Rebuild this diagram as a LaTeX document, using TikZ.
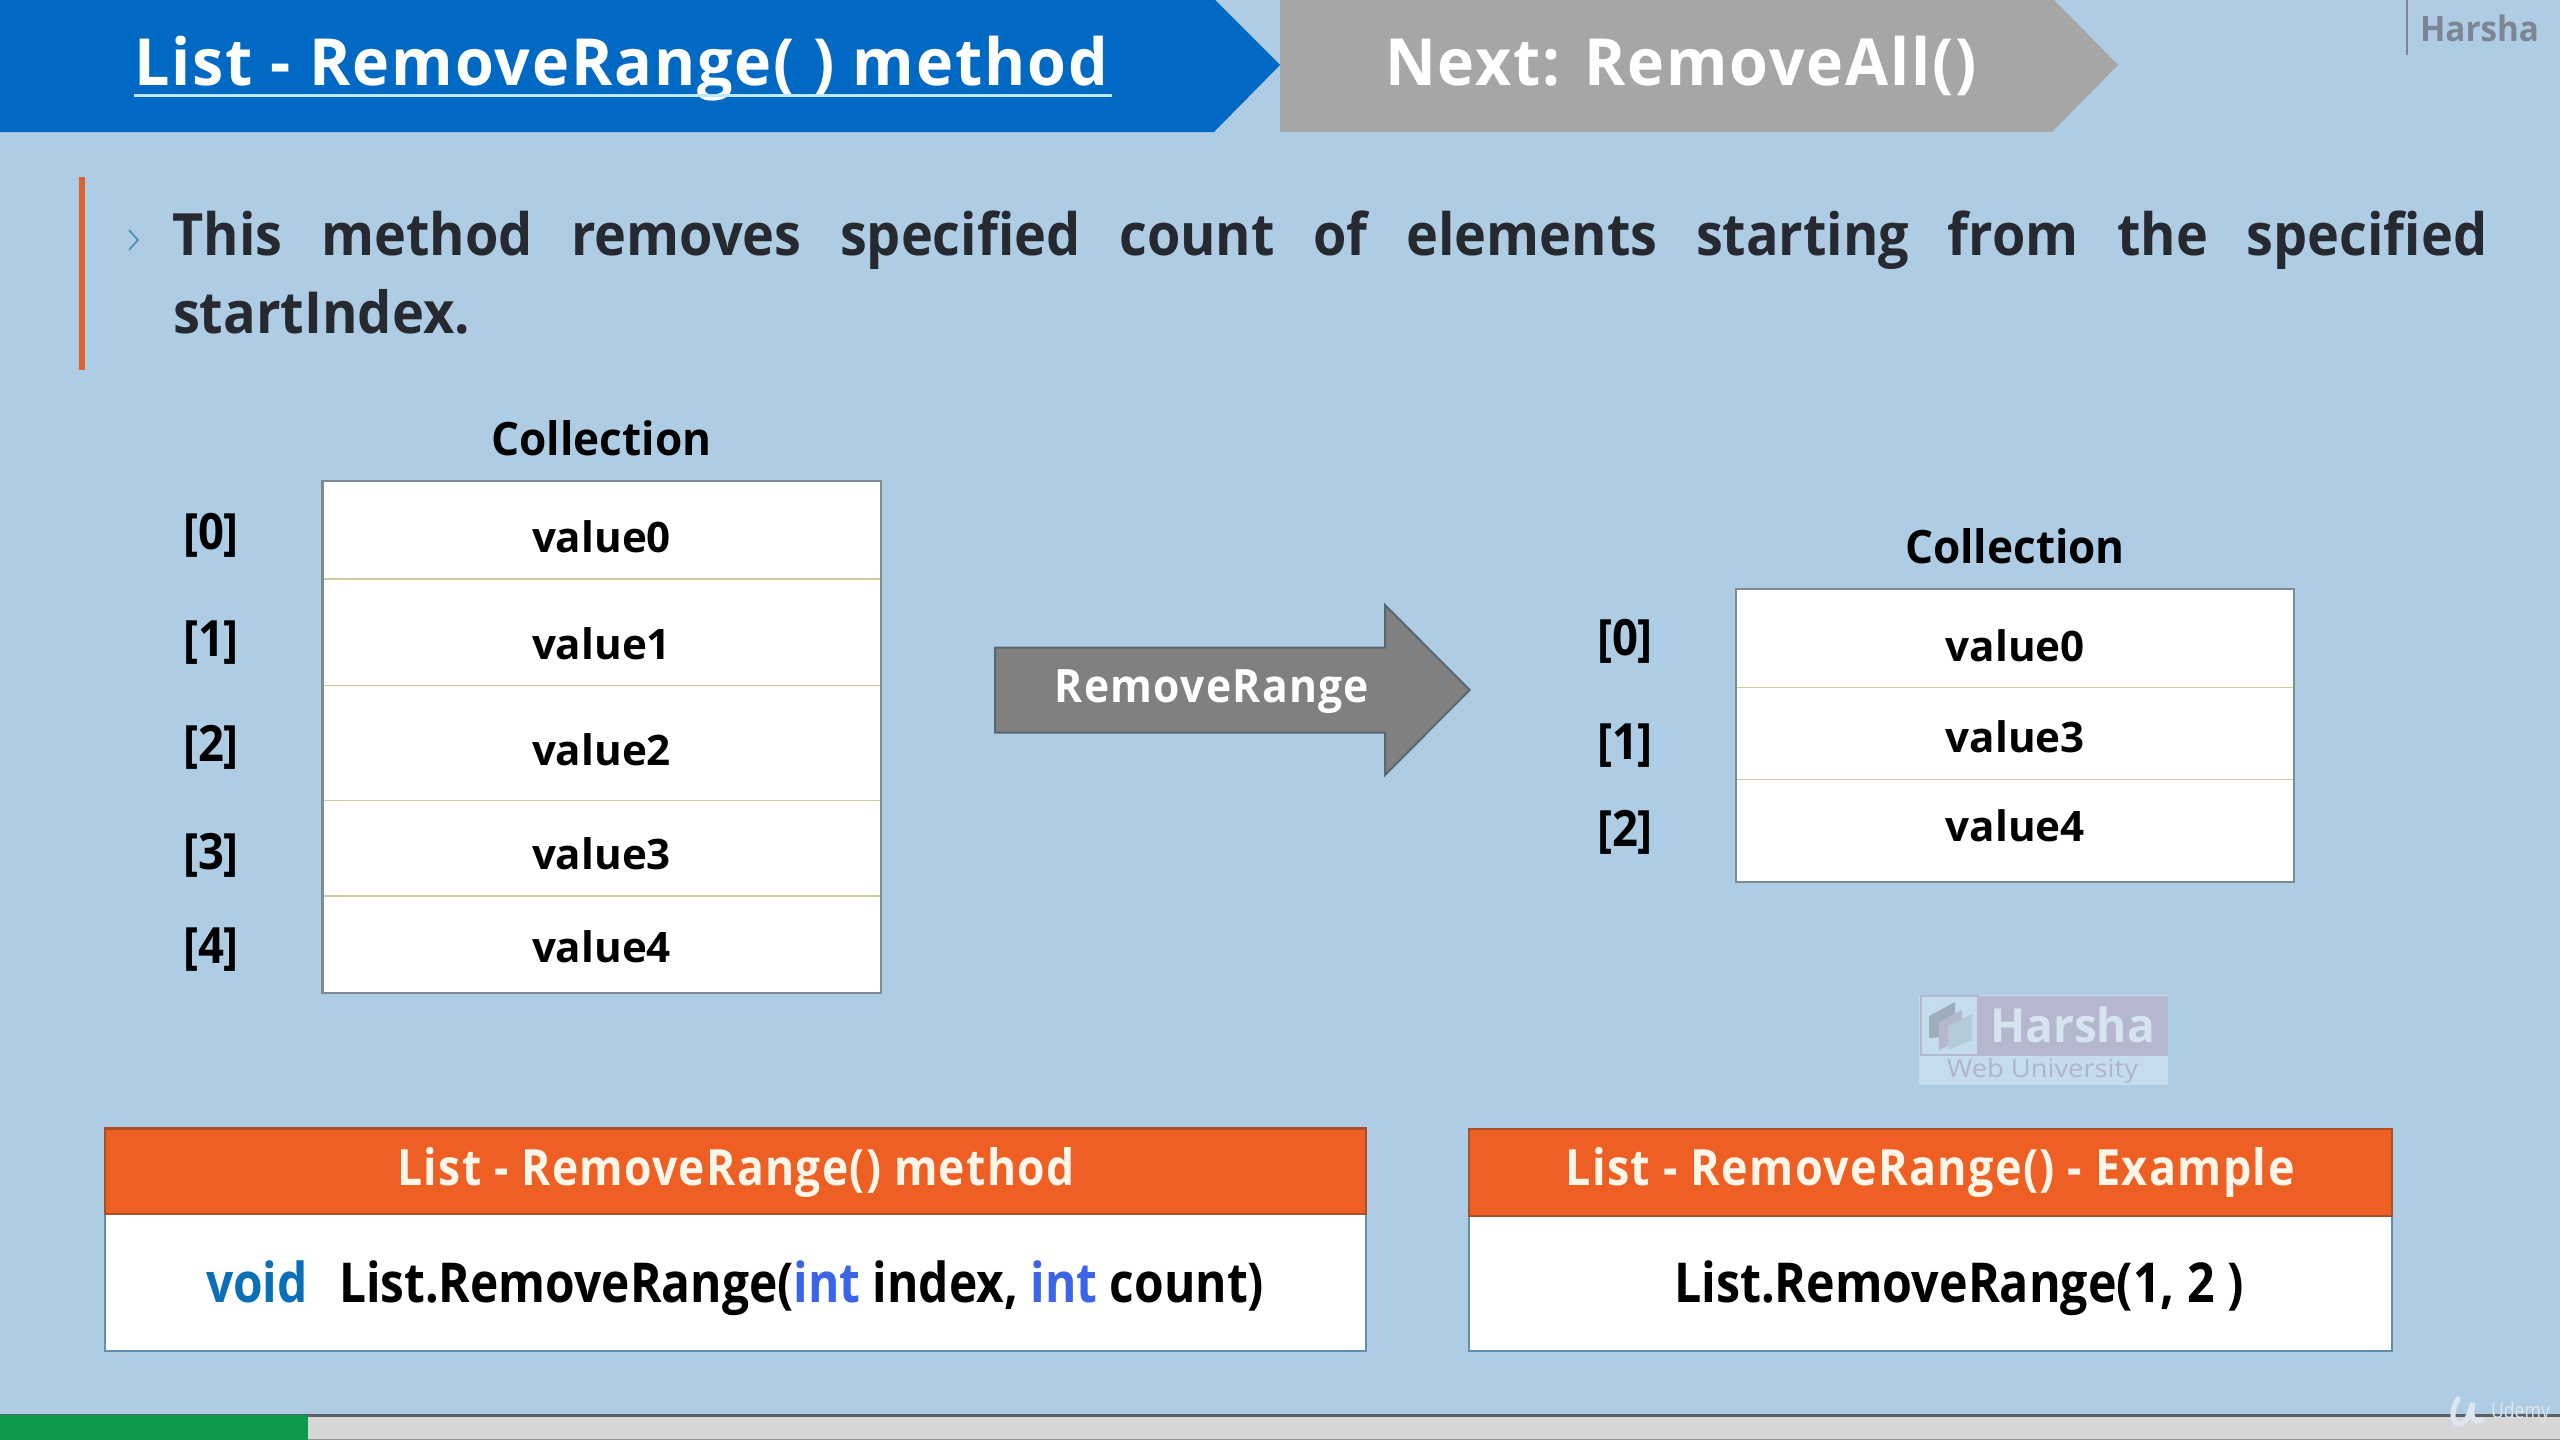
\documentclass[tikz,border=0pt]{standalone}
\usepackage{fontspec}
\usepackage{graphicx}
\setmainfont{Open Sans}
\definecolor{bgblue}{HTML}{AECDE4}
\definecolor{bannerblue}{HTML}{0069C4}
\definecolor{bannergrey}{HTML}{A6A6A6}
\definecolor{rulecol}{HTML}{BFE8F8}
\definecolor{orangebar}{HTML}{E0622F}
\definecolor{chev}{HTML}{4A90B8}
\definecolor{bodyink}{HTML}{262A30}
\definecolor{harshaink}{HTML}{7C8693}
\definecolor{tableedge}{HTML}{7F8A94}
\definecolor{rowline}{HTML}{C9CF9A}
\definecolor{arrowfill}{HTML}{808080}
\definecolor{arrowedge}{HTML}{5A6670}
\definecolor{headfill}{HTML}{EE5F24}
\definecolor{headedge}{HTML}{A94F2A}
\definecolor{cardedge}{HTML}{5E8FB0}
\definecolor{headink}{HTML}{FFF6EA}
\definecolor{voidblue}{HTML}{0B6FB8}
\definecolor{intblue}{HTML}{3C64E6}
\definecolor{barfill}{HTML}{D6D6D6}
\definecolor{barline}{HTML}{5A6068}
\definecolor{bargreen}{HTML}{0E9A4E}
\definecolor{logopurple}{HTML}{B5B7CE}
\definecolor{logolight}{HTML}{C5DCEC}
\definecolor{logoink}{HTML}{D6E4F0}
\definecolor{logosub}{HTML}{B0B4CC}
\definecolor{udemyink}{HTML}{DDE5EE}
% #1 width in px, #2 size in pt, #3 text
\newcommand{\fitx}[3]{\resizebox{\dimexpr #1pt/2\relax}{\height}{\fontsize{#2pt}{#2pt}\selectfont\bfseries #3}}
\newcommand{\fitsp}[3]{\resizebox{\dimexpr #1pt/2\relax}{\height}{\fontsize{#2pt}{#2pt}\selectfont\bfseries\addfontfeature{LetterSpace=3} #3}}
\tikzset{
  txt/.style={inner sep=0pt,outer sep=0pt,anchor=base},
  txtw/.style={inner sep=0pt,outer sep=0pt,anchor=base west},
  table/.style={draw=tableedge,line width=1.1pt,fill=white},
  rowrule/.style={draw=rowline,line width=0.8pt},
  head/.style={draw=headedge,line width=1.1pt,fill=headfill},
  card/.style={draw=cardedge,line width=1.1pt,fill=white}
}
\begin{document}
\begin{tikzpicture}[x=0.5pt,y=-0.5pt]
\useasboundingbox (0,0) rectangle (2560,1440);
\fill[bgblue] (0,0) rectangle (2560,1440);
% banners
\fill[bannerblue] (0,0) -- (1215,0) -- (1280,65) -- (1214,132) -- (0,132) -- cycle;
\fill[bannergrey] (1280,0) -- (2054,0) -- (2118,65) -- (2052,132) -- (1280,132) -- cycle;
\node[txtw,text=white] (title) at (134,85) {\fitsp{974}{32.5}{List - RemoveRange( ) method}};
\coordinate (ulA) at (134,95.7);
\coordinate (ulB) at (1112,95.7);
\draw[rulecol,line width=1.3pt] (ulA) -- (ulB);
\node[txtw,text=white] (next) at (1385,85) {\fitsp{592}{32.5}{Next: RemoveAll()}};
\draw[harshaink,line width=1pt] (2406.5,0) -- (2406.5,55);
\node[txtw,text=harshaink] (author) at (2420,41.5) {\fitx{119}{17.5}{Harsha}};
% bullet
\fill[orangebar] (78.5,177) rectangle (85,370);
\draw[chev,line width=0.8pt] (129,230) -- (138,240) -- (129,250);
\node[txtw,text=bodyink] (body1) at (172.5,255.5) {\scalebox{1}[1.08]{\hbox to 1157.5pt{\fontsize{27}{27}\selectfont\bfseries This\hfill method\hfill removes\hfill specified\hfill count\hfill of\hfill elements\hfill starting\hfill from\hfill the\hfill specified}}};
\node[txtw,text=bodyink] (body2) at (173,333) {\fitx{297}{29}{startIndex.}};
% left table
\node[txt,text=black] (colL) at (601.5,455) {\fitx{220}{23}{Collection}};
\draw[table] (322.5,481) rectangle (881,993);
\draw[rowrule] (323.5,579) -- (880,579);
\draw[rowrule] (323.5,685.5) -- (880,685.5);
\draw[rowrule] (323.5,800.5) -- (880,800.5);
\draw[rowrule] (323.5,896) -- (880,896);
\foreach \n/\t/\y in {0/value0/552,1/value1/659,2/value2/765,3/value3/869,4/value4/962}{
  \node[txt,text=black] (lv\n) at (601.5,\y) {\fitx{139}{21}{\t}};
}
\foreach \n/\t/\y in {0/[0]/549,1/[1]/656,2/[2]/761,3/[3]/869.5,4/[4]/963.5}{
  \node[txt,text=black] (li\n) at (211,\y) {\fitx{56}{25}{\t}};
}
% arrow
\draw[fill=arrowfill,draw=arrowedge,line width=1pt,line join=miter] (995,647.7) -- (1385,647.7) -- (1385,605) -- (1469.6,690) -- (1385,775) -- (1385,732.7) -- (995,732.7) -- cycle;
\node[txt,text=white] (arrowtext) at (1212,702.5) {\fitsp{314}{23}{RemoveRange}};
% right table
\node[txt,text=black] (colR) at (2015,563.7) {\fitx{220}{23}{Collection}};
\draw[table] (1735.6,589.3) rectangle (2294,882.3);
\draw[rowrule] (1736.5,687.3) -- (2293,687.3);
\draw[rowrule] (1736.5,779.3) -- (2293,779.3);
\foreach \n/\t/\y in {0/value0/661,1/value3/752.5,2/value4/841}{
  \node[txt,text=black] (rv\n) at (2015.4,\y) {\fitx{139}{21}{\t}};
}
\foreach \n/\t/\y in {0/[0]/655.7,1/[1]/759,2/[2]/846.3}{
  \node[txt,text=black] (ri\n) at (1625,\y) {\fitx{56}{25}{\t}};
}
% logo
\fill[logolight] (1919,995) rectangle (2168,1085);
\fill[logopurple] (1921,996) rectangle (2168,1056);
\draw[logopurple,line width=1pt,fill=logolight] (1921,996) rectangle (1978,1055);
\fill[harshaink!55!logolight] (1929,1016) -- (1955,1002) -- (1955,1036) -- (1929,1038) -- cycle;
\fill[logopurple] (1939,1022) -- (1962,1010) -- (1962,1040) -- (1939,1050) -- cycle;
\fill[logolight!80!harshaink] (1948,1026) -- (1972,1014) -- (1972,1040) -- (1948,1050) -- cycle;
\node[txtw,text=logoink] (logoA) at (1990,1042) {\fitx{165}{23.5}{Harsha}};
\node[txtw,text=logosub] (logoB) at (1947,1077.5) {\resizebox{95.5pt}{\height}{\fontsize{12.5}{12.5}\selectfont Web University}};
% bottom cards
\draw[card] (105,1214) rectangle (1366,1350.7);
\draw[head] (105,1128.5) rectangle (1366,1214);
\node[txt,text=headink] (headL) at (736,1185) {\fitsp{677}{25}{List - RemoveRange() method}};
\node[txtw,text=black] (codeL) at (206,1302) {\fitx{1058}{27.5}{\textcolor{voidblue}{void}\hspace{18pt}List.RemoveRange(\textcolor{intblue}{int} index, \textcolor{intblue}{int} count)}};
\draw[card] (1469,1215.7) rectangle (2392,1350.7);
\draw[head] (1469,1129) rectangle (2392,1215.7);
\node[txt,text=headink] (headR) at (1930,1185) {\fitsp{729}{25}{List - RemoveRange() - Example}};
\node[txt,text=black] (codeR) at (1959,1302) {\fitx{570}{27.5}{List.RemoveRange(1, 2 )}};
% progress bar
\fill[barfill] (0,1415) rectangle (2560,1440);
\draw[barline,line width=1.2pt] (0,1415.5) -- (2560,1415.5);
\draw[barline!70,line width=0.8pt] (0,1439.3) -- (2560,1439.3);
\fill[bargreen] (0,1415) rectangle (308,1440);
% udemy mark
\draw[udemyink,line width=2.6pt,line cap=round] (2458,1399) .. controls (2450,1412) and (2452,1426) .. (2461,1424) .. controls (2468,1422) and (2470,1410) .. (2473,1403) .. controls (2470,1414) and (2472,1424) .. (2482,1420);
\node[txtw,text=udemyink] (udemy) at (2491,1418) {\resizebox{29.5pt}{\height}{\fontsize{11}{11}\selectfont Udemy}};
\end{tikzpicture}
\end{document}
